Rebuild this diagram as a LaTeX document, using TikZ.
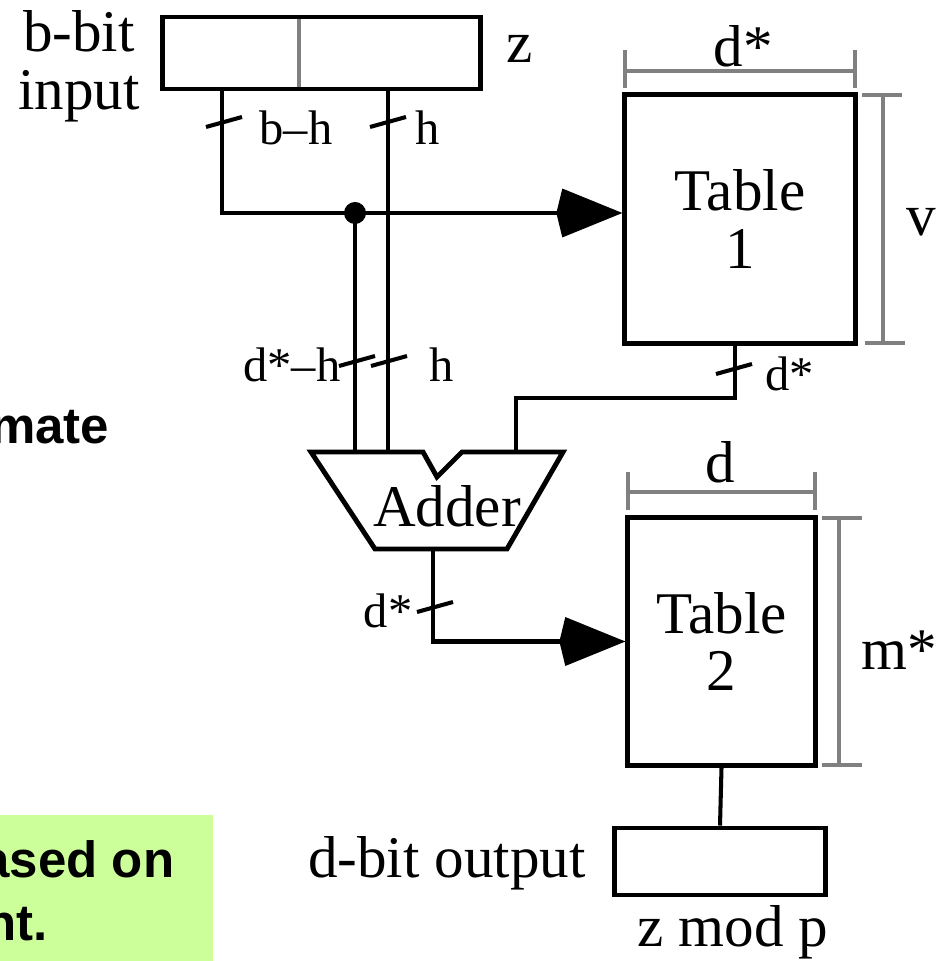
\documentclass[tikz,border=0pt]{standalone}
\usepackage{fontspec}
\setmainfont{Liberation Serif}
\newfontfamily\notesans{Liberation Sans}
\usetikzlibrary{arrows.meta, positioning, calc}
\definecolor{notegreen}{HTML}{CCFF99}
\definecolor{dimgray}{HTML}{808080}

\begin{document}
\begin{tikzpicture}[x=0.01cm, y=-0.01cm,
  box/.style={draw, line width=1.4pt, inner sep=0pt},
  wire/.style={line width=1.15pt},
  dimline/.style={dimgray, line width=1.4pt},
  bigtxt/.style={font=\fontsize{16.8}{16.4}\selectfont},
  wiretxt/.style={font=\fontsize{13.8}{14}\selectfont, inner sep=0pt},
  note/.style={font=\notesans\bfseries\fontsize{14.5}{15}\selectfont, inner sep=0pt},
  bigarrow/.style={-{Stealth[length=17pt, width=13.5pt, inset=-1.8pt]}}
]
  \useasboundingbox (0,0) rectangle (941,961);
  \clip (0,0) rectangle (941,961);

  % Note box, cut at the left edge
  \fill[notegreen] (0,815) rectangle (213,961);
  \node[note, anchor=base east] (mate) at (110,443) {mate};
  \node[note, anchor=base east] (based) at (175,877) {ased on};
  \node[note, anchor=base east] (ment) at (48,940) {nt.};

  % Input register
  \node[box, minimum width=3.17cm, minimum height=0.72cm] (inbox) at (321.5,53) {};
  \draw[dimgray, line width=1pt] (299,19) -- (299,87);
  \node[bigtxt, align=center] (inlab) at (79,66) {b-bit\\input};
  \node[bigtxt] (zlab) at (520,49) {z};

  % Table 1
  \node[box, bigtxt, align=center, minimum width=2.3cm, minimum height=2.48cm] (tab1) at (740,219) {Table\\1};
  \draw[dimline] (625,71) -- (855,71);
  \draw[dimline] (625,50) -- (625,88);
  \draw[dimline] (855,50) -- (855,88);
  \node[bigtxt] (dstar) at (743,46) {d*};
  \draw[dimline] (883,95) -- (883,343);
  \draw[dimline] (862,95) -- (902,95);
  \draw[dimline] (865,343) -- (905,343);
  \node[bigtxt] (vlab) at (921,222) {v};

  % Adder
  \draw[line width=1.4pt, line join=miter] (311,452) -- (423,452) -- (437,477) -- (462,452)
    -- (563,452) -- (507,549) -- (375,549) -- cycle;
  \node[bigtxt] (adder) at (447,506) {Adder};

  % Table 2
  \node[box, bigtxt, align=center, minimum width=1.87cm, minimum height=2.47cm] (tab2) at (721.5,641.5) {Table\\2};
  \draw[dimline] (628,492) -- (815,492);
  \draw[dimline] (628,472) -- (628,510);
  \draw[dimline] (815,472) -- (815,510);
  \node[bigtxt] (dlab) at (720,462) {d};
  \draw[dimline] (839,518) -- (839,765);
  \draw[dimline] (822,518) -- (862,518);
  \draw[dimline] (822,765) -- (862,765);
  \node[bigtxt] (mlab) at (899,650) {m*};

  % Output register
  \node[box, minimum width=2.1cm, minimum height=0.67cm] (outbox) at (720,861.5) {};
  \node[bigtxt, anchor=east] (outlab) at (598,863) {d-bit output};
  \node[bigtxt] (modlab) at (733,932) {z mod p};

  % Wires
  \coordinate (lw) at (222,213);
  \coordinate (jn) at (355,213);
  \coordinate (a1) at (355,452);
  \coordinate (a2) at (388,452);
  \coordinate (a3) at (516,452);
  \coordinate (aout) at (433,549);
  \draw[wire] (inbox.south -| lw) -- (lw) -- (jn);
  \draw[wire, bigarrow] (jn) -- (jn -| tab1.west);
  \draw[wire] (jn) -- (a1);
  \draw[wire] (inbox.south -| a2) -- (a2);
  \draw[wire] ([xshift=-0.05cm]tab1.south) -- ++(0,52) -| (a3);
  \draw[wire, bigarrow] (aout) |- (tab2.west);
  \draw[wire] (tab2.south) -- (outbox.north);
  \fill (jn) circle[radius=0.11cm];

  % Bus widths
  \foreach \x/\y in {224/122, 388/122, 357/361, 389/361, 734/369, 435/607}
    \draw[wire] (\x,\y) ++(-18,5) -- ++(36,-10);
  \node[wiretxt, anchor=west] (bh) at (259,128) {b--h};
  \node[wiretxt, anchor=west] (h1) at (415,128) {h};
  \node[wiretxt, anchor=east] (dh) at (341,365) {d*--h};
  \node[wiretxt, anchor=west] (h2) at (429,365) {h};
  \node[wiretxt, anchor=west] (d1) at (765,374) {d*};
  \node[wiretxt, anchor=east] (d2) at (413,611) {d*};
\end{tikzpicture}
\end{document}
